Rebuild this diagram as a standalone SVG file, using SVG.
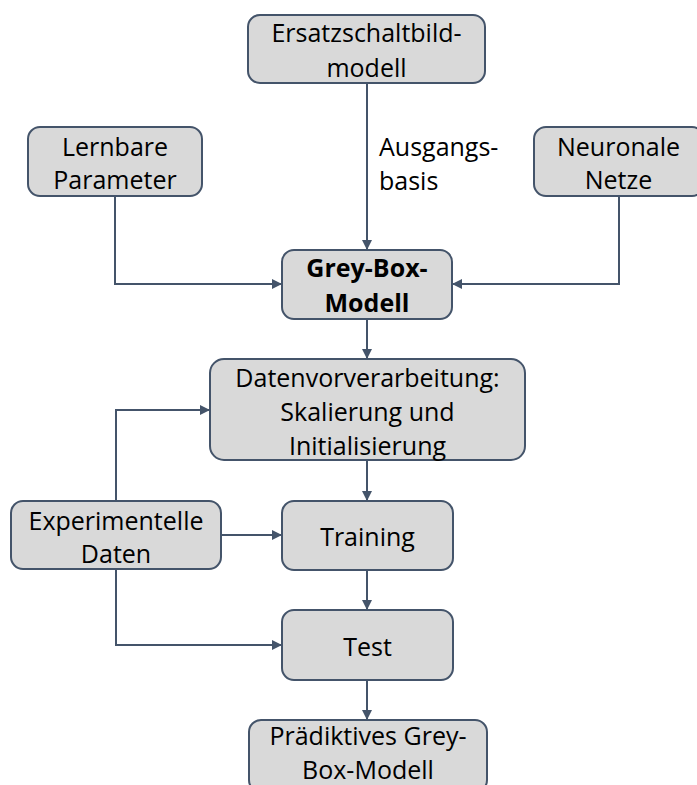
<svg xmlns="http://www.w3.org/2000/svg" width="697" height="785" viewBox="0 0 697 785">
<style>
.box{fill:#D9D9D9;stroke:#44546A;stroke-width:2}
.t{font-family:"Open Sans","Liberation Sans",sans-serif;font-size:25px;fill:#000;text-anchor:middle}
.b{font-weight:bold}
.c{fill:none;stroke:#44546A;stroke-width:2}
</style>
<defs>
<marker id="ah" viewBox="0 0 10 10" refX="10" refY="5" markerWidth="5" markerHeight="5" orient="auto" markerUnits="strokeWidth">
<path d="M0,0 L10,5 L0,10 z" fill="#44546A"/>
</marker>
</defs>
<rect width="697" height="785" fill="#fff"/>
<g id="connectors">
<path class="c" d="M367,83 V250" marker-end="url(#ah)"/>
<path class="c" d="M115,196 V284 H282" marker-end="url(#ah)"/>
<path class="c" d="M619,196 V284 H452" marker-end="url(#ah)"/>
<path class="c" d="M367,319 V359" marker-end="url(#ah)"/>
<path class="c" d="M367,460 V501" marker-end="url(#ah)"/>
<path class="c" d="M367,570 V610" marker-end="url(#ah)"/>
<path class="c" d="M367,680 V720" marker-end="url(#ah)"/>
<path class="c" d="M116,501 V410 H210" marker-end="url(#ah)"/>
<path class="c" d="M221,535 H282" marker-end="url(#ah)"/>
<path class="c" d="M116,569 V645 H282" marker-end="url(#ah)"/>
<text class="t" x="379" y="156" style="text-anchor:start">Ausgangs-</text>
<text class="t" x="379" y="190" style="text-anchor:start">basis</text>
</g>
<g id="ersatz">
<rect class="box" x="248" y="15" width="237" height="68" rx="12"/>
<text class="t" x="366.5" y="42">Ersatzschaltbild-</text>
<text class="t" x="366.5" y="77">modell</text>
</g>
<g id="lernbare">
<rect class="box" x="28" y="127" width="174" height="69" rx="12"/>
<text class="t" x="115" y="156">Lernbare</text>
<text class="t" x="115" y="189">Parameter</text>
</g>
<g id="neuronale">
<rect class="box" x="534" y="127" width="170" height="69" rx="12"/>
<text class="t" x="618.5" y="156">Neuronale</text>
<text class="t" x="618.5" y="189">Netze</text>
</g>
<g id="greybox">
<rect class="box" x="282" y="250" width="170" height="69" rx="12"/>
<text class="t b" x="367" y="277">Grey-Box-</text>
<text class="t b" x="367" y="312">Modell</text>
</g>
<g id="daten">
<rect class="box" x="210" y="359" width="315" height="101" rx="14"/>
<text class="t" x="367.5" y="387">Datenvorverarbeitung:</text>
<text class="t" x="367.5" y="421">Skalierung und</text>
<text class="t" x="367.5" y="455">Initialisierung</text>
</g>
<g id="experimentelle">
<rect class="box" x="11" y="501" width="210" height="68" rx="12"/>
<text class="t" x="116" y="530">Experimentelle</text>
<text class="t" x="116" y="563">Daten</text>
</g>
<g id="training">
<rect class="box" x="282" y="501" width="171" height="69" rx="12"/>
<text class="t" x="367.5" y="546">Training</text>
</g>
<g id="test">
<rect class="box" x="282" y="610" width="171" height="70" rx="12"/>
<text class="t" x="367.5" y="656">Test</text>
</g>
<g id="praediktiv">
<rect class="box" x="249" y="720" width="238" height="72" rx="12"/>
<text class="t" x="368" y="745">Prädiktives Grey-</text>
<text class="t" x="368" y="779">Box-Modell</text>
</g>
</svg>
